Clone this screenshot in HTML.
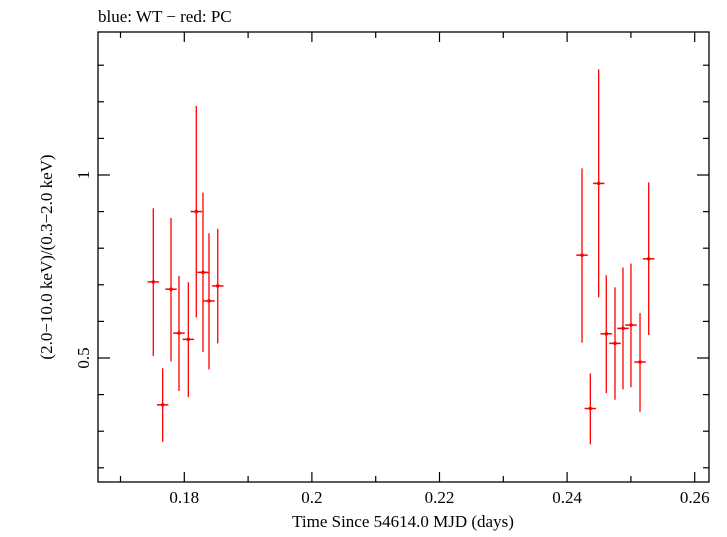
<!DOCTYPE html>
<html><head><meta charset="utf-8"><style>
body{margin:0;background:#fff;}
svg text{font-family:"Liberation Serif",serif;fill:#000;}
</style></head><body>
<svg width="727" height="532" xmlns="http://www.w3.org/2000/svg">
<text x="98" y="22" font-size="17">blue: WT − red: PC</text>
<rect x="98" y="32" width="611" height="450" fill="none" stroke="#000" stroke-width="1.3"/>
<g id="axes"></g>
<g id="marks"></g>
<text x="403" y="527" font-size="17" text-anchor="middle">Time Since 54614.0 MJD (days)</text>
<text transform="translate(52,257) rotate(-90)" font-size="17" text-anchor="middle">(2.0−10.0 keV)/(0.3−2.0 keV)</text>
</svg>
<script>
const times=[0.17514,0.17661,0.17792,0.17917,0.18063,0.18188,0.18293,0.18387,0.18524,0.24234,0.24364,0.24495,0.24614,0.24751,0.24876,0.25001,0.25143,0.25279];
const ratios=[0.708,0.372,0.688,0.568,0.551,0.900,0.734,0.656,0.697,0.781,0.362,0.977,0.566,0.540,0.581,0.590,0.489,0.771];
const errHigh=[0.909,0.472,0.883,0.724,0.707,1.189,0.952,0.841,0.853,1.018,0.458,1.289,0.726,0.693,0.747,0.758,0.623,0.980];
const errLow=[0.505,0.271,0.490,0.410,0.393,0.611,0.516,0.469,0.540,0.542,0.264,0.666,0.404,0.386,0.414,0.420,0.353,0.563];
const timeHalfBin=0.0009;
const xTicks=[0.17,0.18,0.19,0.20,0.21,0.22,0.23,0.24,0.25,0.26];
const xLabels=["0.18","0.2","0.22","0.24","0.26"];
const yTicks=[0.2,0.3,0.4,0.5,0.6,0.7,0.8,0.9,1.0,1.1,1.2,1.3];
const yLabels=["0.5","1"];
const X=t=>184.3+(t-0.18)*6380;
const Y=v=>175-(v-1)*366;
const NS="http://www.w3.org/2000/svg";
const axes=document.getElementById('axes'),marks=document.getElementById('marks');
function mk(tag,attrs,parent){const e=document.createElementNS(NS,tag);for(const k in attrs)e.setAttribute(k,attrs[k]);parent.appendChild(e);return e;}
xTicks.forEach(t=>{
  const x=X(t);if(x<98||x>709)return;
  const major=Math.abs(Math.round(t*100)%2)===0;const L=major?10:6;
  const a=mk('line',{x1:x,x2:x,y1:482,y2:482-L,stroke:'#000','stroke-width':1.2},axes);
  
  
  const b=mk('line',{x1:x,x2:x,y1:32,y2:32+L,stroke:'#000','stroke-width':1.2},axes);
  
  
});
xLabels.forEach(s=>{
  const e=mk('text',{x:X(parseFloat(s)),y:503,'font-size':17,'text-anchor':'middle'},axes);e.textContent=s;
  
  
});
yTicks.forEach(v=>{
  const y=Y(v);if(y<32||y>482)return;
  const major=Math.abs(v-0.5)<1e-6||Math.abs(v-1)<1e-6;const L=major?12:6;
  const a=mk('line',{x1:98,x2:98+L,y1:y,y2:y,stroke:'#000','stroke-width':1.2},axes);
  
  
  const b=mk('line',{x1:709,x2:709-L,y1:y,y2:y,stroke:'#000','stroke-width':1.2},axes);
  
  
});
yLabels.forEach(s=>{
  const y=Y(parseFloat(s));
  const e=mk('text',{transform:`translate(89,${y}) rotate(-90)`,'font-size':17,'text-anchor':'middle'},axes);e.textContent=s;
  
  
});
times.forEach((t,i)=>{
  const g=mk('g',{},marks);
  
  
  const x=X(t),y=Y(ratios[i]);
  mk('line',{x1:x,x2:x,y1:Y(errHigh[i]),y2:Y(errLow[i]),stroke:'#f00','stroke-width':1.3},g);
  mk('line',{x1:X(t-timeHalfBin),x2:X(t+timeHalfBin),y1:y,y2:y,stroke:'#f00','stroke-width':1.5},g);
  mk('circle',{cx:x,cy:y,r:1.8,fill:'#f00'},g);
});
</script>
</body></html>
